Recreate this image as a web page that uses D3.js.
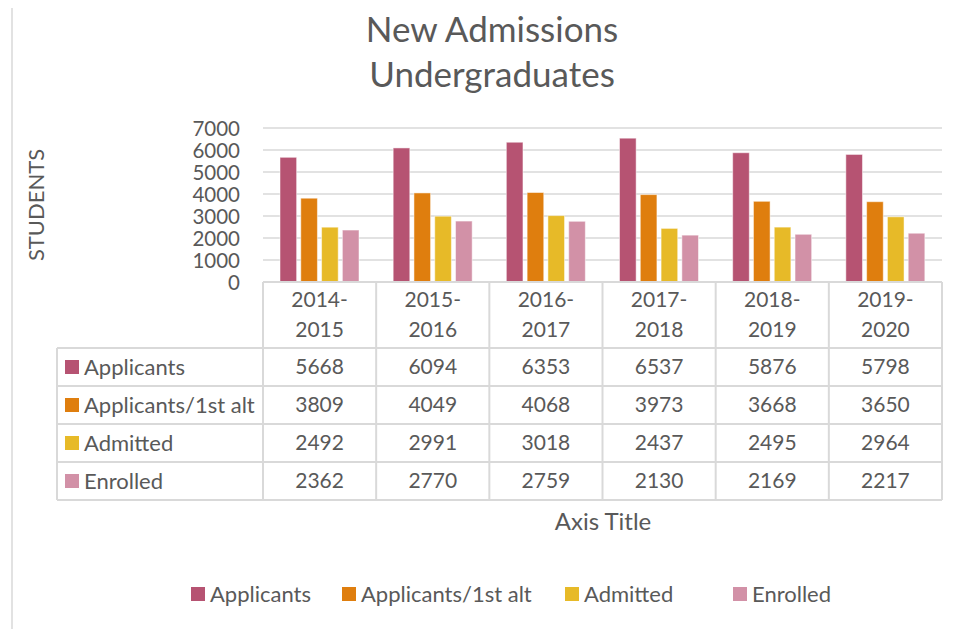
<!DOCTYPE html>
<html><head><meta charset="utf-8">
<script src="https://cdn.jsdelivr.net/npm/d3@7"></script>
<style>body{margin:0;background:#fff}svg{display:block}text{font-family:Lato,"Open Sans",sans-serif;fill:#595959}</style>
</head><body><svg id="c" width="958" height="629"></svg>
<script>
const categories = ["2014-2015","2015-2016","2016-2017","2017-2018","2018-2019","2019-2020"];
const seriesNames = ["Applicants","Applicants/1st alt","Admitted","Enrolled"];
const applicants = [5668,6094,6353,6537,5876,5798];
const applicants1stAlt = [3809,4049,4068,3973,3668,3650];
const admitted = [2492,2991,3018,2437,2495,2964];
const enrolled = [2362,2770,2759,2130,2169,2217];
const yTicks = [0,1000,2000,3000,4000,5000,6000,7000];
const colors = ["#B65372","#DF7E0E","#E7BA28","#D291A7"];
const seriesValues = [applicants, applicants1stAlt, admitted, enrolled];

(function(){
const svg = d3.select("#c");
const grid = "#D9D9D9";
const pLeft = 263, pRight = 942, pTop = 128, pBottom = 282;

svg.append("line").attr("x1",12).attr("x2",12).attr("y1",8).attr("y2",629).attr("stroke","#D9D9D9").attr("stroke-width",1.5);

svg.append("text").attr("x",492).attr("y",42).attr("text-anchor","middle").attr("font-size",35).text("New Admissions");
svg.append("text").attr("x",492).attr("y",87).attr("text-anchor","middle").attr("font-size",35).text("Undergraduates");

const x = d3.scaleBand().domain(categories).range([pLeft,pRight]).padding(0);
const xi = d3.scaleBand().domain(seriesNames).range([17, 96]).paddingInner(0.2);
const y = d3.scaleLinear().domain([0,7000]).range([pBottom, pTop]);

svg.append("g").selectAll("line").data(yTicks.filter(d=>d>0)).join("line")
  .attr("x1",pLeft).attr("x2",pRight).attr("y1",d=>y(d)).attr("y2",d=>y(d))
  .attr("stroke",grid).attr("stroke-width",1.5);

const yAxis = d3.axisLeft(y).tickValues(yTicks).tickSize(0).tickPadding(0).tickFormat(d3.format("d"));
const ya = svg.append("g").attr("transform","translate(240,0)").call(yAxis);
ya.select(".domain").remove();
ya.selectAll("text").attr("font-size",20.5).attr("font-family","Lato").attr("fill","#595959").attr("dy","0.35em");

svg.append("text").attr("transform","translate(44,205) rotate(-90)").attr("text-anchor","middle").attr("font-size",22).text("STUDENTS");

seriesValues.forEach((vals,si)=>{
  svg.append("g").selectAll("rect").data(vals).join("rect")
    .attr("x",(d,i)=>x(categories[i])+xi(seriesNames[si]))
    .attr("width",xi.bandwidth())
    .attr("y",d=>y(d)).attr("height",d=>y(0)-y(d))
    .attr("fill",colors[si]).attr("stroke","#fff").attr("stroke-opacity",0.5).attr("stroke-width",1);
});

const rowTop = 348, rowH = 38, tableLeft = 57;
const rowY = i => rowTop + i*rowH;
const tb = svg.append("g");
const ln = (x1,y1,x2,y2)=>tb.append("line").attr("x1",x1).attr("y1",y1).attr("x2",x2).attr("y2",y2).attr("stroke",grid).attr("stroke-width",2);
ln(pLeft,pBottom,pRight,pBottom);
categories.forEach(c=>ln(x(c),pBottom,x(c),rowY(4)));
ln(pRight,pBottom,pRight,rowY(4));
ln(tableLeft,rowTop,tableLeft,rowY(4));
for(let i=0;i<=4;i++) ln(tableLeft,rowY(i),pRight,rowY(i));

categories.forEach(c=>{
  const parts = c.split("-");
  const cx = x(c)+x.bandwidth()/2;
  tb.append("text").attr("x",cx).attr("y",307).attr("text-anchor","middle").attr("font-size",21).text(parts[0]+"-");
  tb.append("text").attr("x",cx).attr("y",337).attr("text-anchor","middle").attr("font-size",21).text(parts[1]);
});
seriesNames.forEach((s,si)=>{
  const cy = rowY(si)+rowH/2;
  tb.append("rect").attr("x",65).attr("y",cy-7).attr("width",14).attr("height",14).attr("fill",colors[si]);
  tb.append("text").attr("x",84).attr("y",cy).attr("dy","0.35em").attr("font-size",22).text(s);
  seriesValues[si].forEach((v,i)=>{
    tb.append("text").attr("x",x(categories[i])+x.bandwidth()/2).attr("y",cy).attr("dy","0.35em")
      .attr("text-anchor","middle").attr("font-size",21).text(v);
  });
});

svg.append("text").attr("x",603).attr("y",530).attr("text-anchor","middle").attr("font-size",24).text("Axis Title");

const legendX = [191, 342, 565, 733];
const lg = svg.append("g");
seriesNames.forEach((s,si)=>{
  lg.append("rect").attr("x",legendX[si]).attr("y",587).attr("width",14).attr("height",14).attr("fill",colors[si]);
  lg.append("text").attr("x",legendX[si]+19).attr("y",594).attr("dy","0.35em").attr("font-size",22).text(s);
});
})();
</script></body></html>
